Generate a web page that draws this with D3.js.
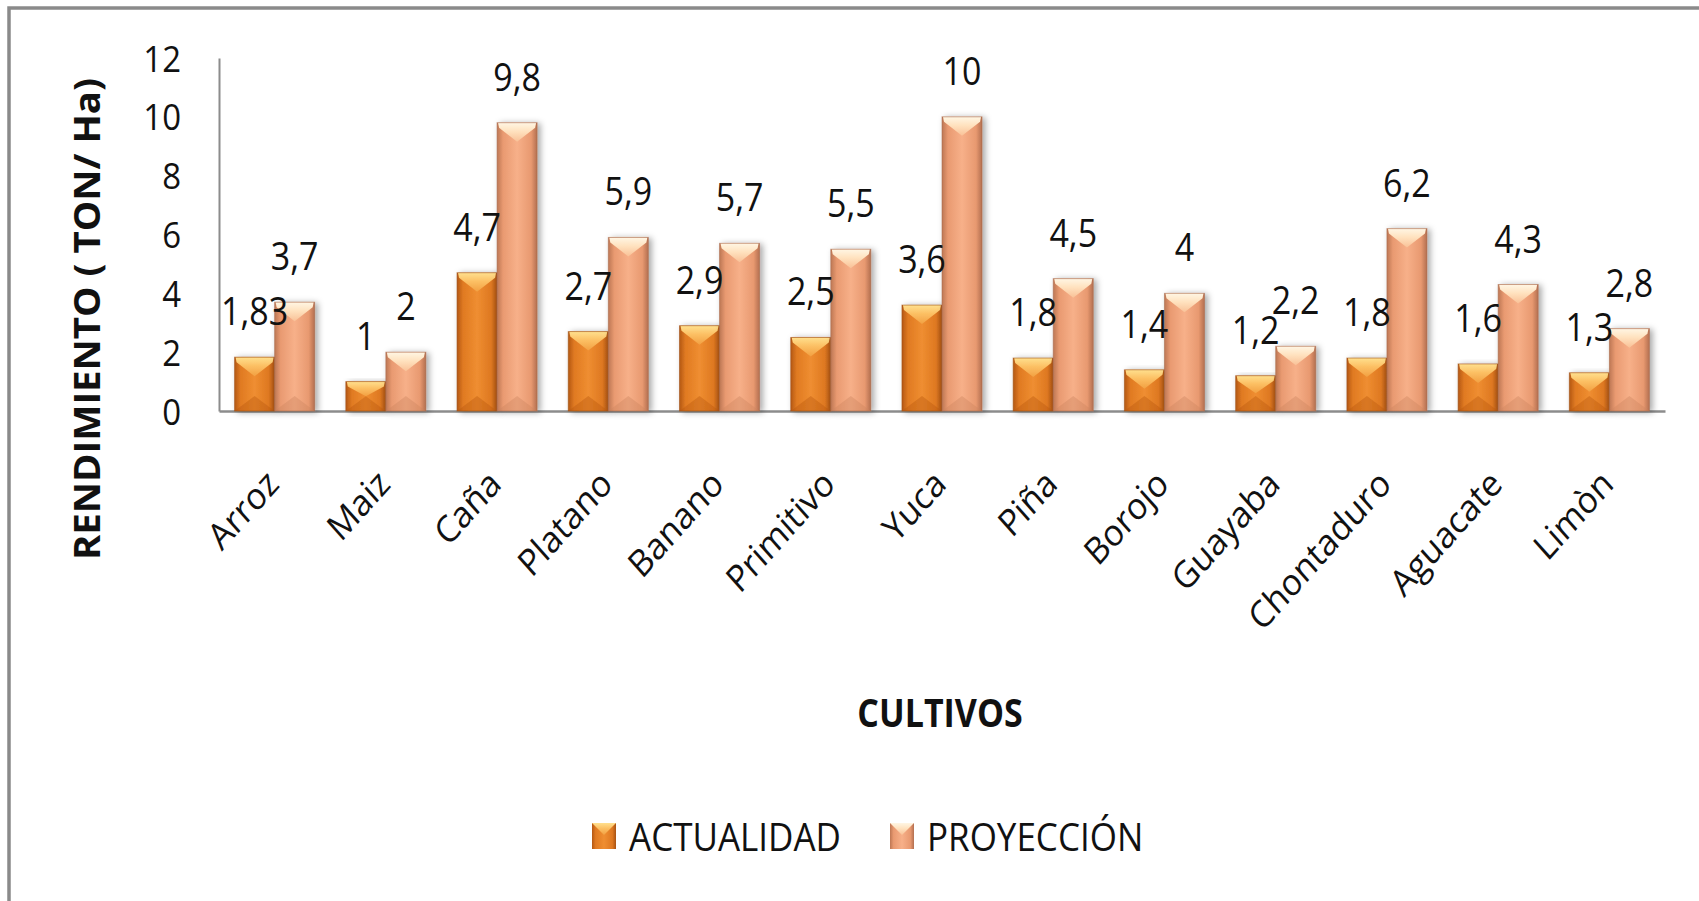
<!DOCTYPE html>
<html>
<head>
<meta charset="utf-8">
<script src="https://cdn.jsdelivr.net/npm/d3@7"></script>
<style>
  body { margin: 0; background: #fff; }
  text { font-family: "Open Sans", "DejaVu Sans", sans-serif; fill: #111; }
</style>
</head>
<body>
<div id="chart"></div>
<script>
var svgWidth = 1699;
var svgHeight = 901;

// data
var cultivos = ["Arroz", "Maiz", "Caña", "Platano", "Banano", "Primitivo", "Yuca",
  "Piña", "Borojo", "Guayaba", "Chontaduro", "Aguacate", "Limòn"];
var actualidad = [1.83, 1, 4.7, 2.7, 2.9, 2.5, 3.6, 1.8, 1.4, 1.2, 1.8, 1.6, 1.3];
var proyeccion = [3.7, 2, 9.8, 5.9, 5.7, 5.5, 10, 4.5, 4, 2.2, 6.2, 4.3, 2.8];
var seriesNames = ["ACTUALIDAD", "PROYECCIÓN"];
var yTicks = [0, 2, 4, 6, 8, 10, 12];

var plot = { left: 219, right: 1665, top: 58, bottom: 411 };

var data = cultivos.map(function(c, i) {
  return { cultivo: c, values: [actualidad[i], proyeccion[i]] };
});

var svg = d3.select("#chart")
  .append("svg")
  .attr("width", svgWidth)
  .attr("height", svgHeight);

var defs = svg.append("defs");

// colour sets for the two series: body gradient stops, top bevel, bottom bevel
var looks = [
  { body: ["#b45814", "#e07a22", "#ef8e31", "#de7821", "#a85213"], top: ["#ffe08e", "#fcc064", "#f2a042"], bottom: "#b9580f" },
  { body: ["#bd7754", "#e99a71", "#f7b089", "#e89970", "#b36f50"], top: ["#fff6e4", "#ffe2bf", "#f9c197"], bottom: "#cc8460" }
];

looks.forEach(function(l, i) {
  var g = defs.append("linearGradient").attr("id", "body" + i)
    .attr("x1", 0).attr("x2", 1).attr("y1", 0).attr("y2", 0);
  [0, 0.15, 0.5, 0.85, 1].forEach(function(o, j) {
    g.append("stop").attr("offset", o).attr("stop-color", l.body[j]);
  });
  var t = defs.append("linearGradient").attr("id", "top" + i)
    .attr("x1", 0).attr("x2", 0).attr("y1", 0).attr("y2", 1);
  t.append("stop").attr("offset", 0).attr("stop-color", l.top[0]);
  t.append("stop").attr("offset", 0.45).attr("stop-color", l.top[1]);
  t.append("stop").attr("offset", 1).attr("stop-color", l.top[2]);
});

var shadow = defs.append("filter").attr("id", "shadow")
  .attr("x", "-20%").attr("y", "-10%").attr("width", "150%").attr("height", "130%");
shadow.append("feDropShadow")
  .attr("dx", 3).attr("dy", 1).attr("stdDeviation", 3)
  .attr("flood-color", "#000").attr("flood-opacity", 0.35);

// outer frame
svg.append("rect")
  .attr("x", 9).attr("y", 8)
  .attr("width", 1720).attr("height", 920)
  .attr("fill", "none")
  .attr("stroke", "#8a8a8a")
  .attr("stroke-width", 3.5);

var x0 = d3.scaleBand()
  .domain(cultivos)
  .range([plot.left, plot.right])
  .paddingInner(0.28)
  .paddingOuter(0.14);

var x1 = d3.scaleBand()
  .domain([0, 1])
  .range([0, x0.bandwidth()]);

var y = d3.scaleLinear()
  .domain([0, 12])
  .range([plot.bottom, plot.top]);

// y axis
var yAxis = svg.append("g")
  .attr("transform", `translate(${plot.left}, 0)`)
  .call(d3.axisLeft(y).tickValues(yTicks).tickSize(0).tickPadding(0));
yAxis.select(".domain").attr("stroke", "#8c8c8c").attr("stroke-width", 2);
yAxis.selectAll("text")
  .attr("x", 0)
  .attr("dy", "0.36em")
  .attr("transform", "translate(-38, 0) scale(1, 1.1)")
  .style("font-family", "'Open Sans', sans-serif")
  .style("font-size", "33px")
  .attr("fill", "#111");

// x axis
var xAxis = svg.append("g")
  .attr("transform", `translate(0, ${plot.bottom})`)
  .call(d3.axisBottom(x0).tickSize(0).tickFormat(""));
xAxis.select(".domain").attr("stroke", "#8c8c8c").attr("stroke-width", 2.5);

// bars
var groups = svg.append("g")
  .selectAll("g")
  .data(data)
  .enter()
  .append("g")
  .attr("transform", d => `translate(${x0(d.cultivo)}, 0)`);

var bars = groups.selectAll("g.bar")
  .data(d => d.values.map(function(v, i) { return { s: i, v: v }; }))
  .enter()
  .append("g")
  .classed("bar", true)
  .attr("filter", "url(#shadow)")
  .attr("transform", d => `translate(${x1(d.s)}, ${y(d.v)})`);

var bw = x1.bandwidth();

bars.append("rect")
  .attr("width", bw)
  .attr("height", d => plot.bottom - y(d.v))
  .attr("fill", d => `url(#body${d.s})`);

// light chevron at the top of each bar
bars.append("polygon")
  .attr("points", function(d) {
    var t = Math.min(19, (plot.bottom - y(d.v)) / 2);
    return [[1, 0], [bw - 1, 0], [bw - 2, 5], [bw / 2, t], [2, 5]].join(" ");
  })
  .attr("fill", d => `url(#top${d.s})`);

// darker wedge at the foot
bars.append("polygon")
  .attr("points", function(d) {
    var h = plot.bottom - y(d.v);
    var t = Math.min(15, h / 2);
    return [[0, h], [bw, h], [bw / 2, h - t]].join(" ");
  })
  .attr("fill", d => looks[d.s].bottom)
  .attr("opacity", 0.4);

bars.append("rect")
  .attr("width", bw)
  .attr("height", d => plot.bottom - y(d.v))
  .attr("fill", "none")
  .attr("stroke", d => d.s == 0 ? "#9c4c12" : "#a8694b")
  .attr("stroke-opacity", 0.55)
  .attr("stroke-width", 1);

// value labels
groups.selectAll("text.val")
  .data(d => d.values.map(function(v, i) { return { s: i, v: v }; }))
  .enter()
  .append("text")
  .classed("val", true)
  .attr("transform", d => `translate(${x1(d.s) + bw / 2}, ${y(d.v) - 32}) scale(1, 1.1)`)
  .attr("text-anchor", "middle")
  .style("font-size", "34px")
  .text(d => String(d.v).replace(".", ","));

// category labels, rotated
svg.append("g")
  .selectAll("text")
  .data(cultivos)
  .enter()
  .append("text")
  .attr("transform", d => `translate(${x0(d) + x0.bandwidth() / 2 + 6}, 486) scale(1, 1.12) rotate(-45)`)
  .attr("text-anchor", "end")
  .style("font-size", "33px")
  .text(d => d);

// axis titles
svg.append("text")
  .attr("transform", "translate(940, 727) scale(1, 1.15)")
  .attr("text-anchor", "middle")
  .style("font-size", "34px")
  .style("font-weight", "bold")
  .text("CULTIVOS");

svg.append("text")
  .attr("transform", "translate(100, 319) rotate(-90)")
  .attr("text-anchor", "middle")
  .attr("textLength", 482)
  .attr("lengthAdjust", "spacingAndGlyphs")
  .style("font-size", "35px")
  .style("font-weight", "bold")
  .text("RENDIMIENTO ( TON/ Ha)");

// legend
var legend = svg.append("g")
  .selectAll("g")
  .data(seriesNames)
  .enter()
  .append("g")
  .attr("transform", (d, i) => `translate(${592 + i * 298}, 823)`);

legend.append("rect")
  .attr("width", 24)
  .attr("height", 26)
  .attr("fill", (d, i) => `url(#body${i})`);

legend.append("polygon")
  .attr("points", "0,0 24,0 12,12")
  .attr("fill", (d, i) => `url(#top${i})`);

legend.append("text")
  .attr("transform", "translate(37, 28) scale(1, 1.1)")
  .style("font-size", "35px")
  .text(d => d);
</script>
</body>
</html>
